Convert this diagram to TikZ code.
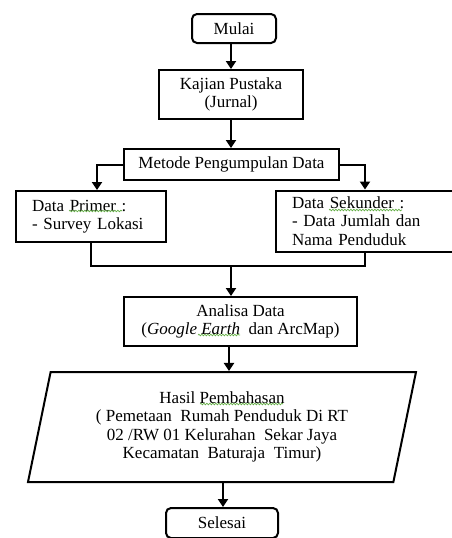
\documentclass[tikz,border=0pt]{standalone}
\usepackage{fontspec}
\setmainfont{Liberation Serif}
\usetikzlibrary{arrows.meta,shapes.geometric,decorations.pathmorphing}
\definecolor{spell}{RGB}{100,175,70}
\begin{document}
\begin{tikzpicture}[x=1pt,y=-1pt,
  every node/.style={font=\fontsize{17}{18.5}\selectfont, text=black},
  box/.style={draw, line width=2pt, inner sep=0pt, align=center},
  term/.style={box, rounded corners=5pt},
  ln/.style={line width=2pt},
  arr/.style={ln, -{Triangle[length=8pt,width=10pt]}},
  wavy/.style={draw=spell, line width=0.7pt, decorate, decoration={snake, amplitude=0.8pt, segment length=3pt}}
]
\useasboundingbox (0,0) rectangle (451,538);
\node[term, minimum width=84pt, minimum height=29pt] (mul) at (234,28.5) {Mulai};
\node[box, minimum width=144pt, minimum height=49pt] (kaj) at (231,94.5) {Kajian Pustaka\\(Jurnal)};
\node[box, minimum width=215pt, minimum height=31pt] (met) at (231.5,164.5) {Metode Pengumpulan Data};
\node[box, minimum width=150pt, minimum height=51pt, align=left, text width=118pt, inner xsep=16pt] (pri) at (91,216.5) {Data Primer :\\- Survey Lokasi};
\node[box, minimum width=178pt, minimum height=61pt, align=left, text width=146pt, inner xsep=16pt] (sek) at (365,221) {Data Sekunder :\\- Data Jumlah dan\\Nama Penduduk};
\node[box, minimum width=233pt, minimum height=49pt] (ana) at (240.5,321.5) {Analisa Data\\(\textit{Google Earth}\ \ dan ArcMap)};
\node[draw, line width=2pt, trapezium, trapezium left angle=72.3, trapezium right angle=107.7, trapezium stretches body, minimum width=388pt, minimum height=110pt, inner sep=0pt, align=center] (has) at (222,427)
  {Hasil Pembahasan\\( Pemetaan\ \ Rumah Penduduk Di RT\\02 /RW 01 Kelurahan\ \ Sekar Jaya\\Kecamatan\ \ Baturaja\ \ Timur)};
\node[term, minimum width=112pt, minimum height=30pt] (sel) at (222,523) {Selesai};
\coordinate (j) at (231,266);
\draw[arr] (mul.south -| 231,0) -- (kaj.north -| 231,0);
\draw[arr] (kaj.south -| 231,0) -- (met.north -| 231,0);
\draw[arr] (met.west) -| ([xshift=6pt]pri.north);
\draw[arr] (met.east) -| (sek.north);
\draw[ln] (pri.south) |- (j);
\draw[ln] (sek.south) |- (j);
\draw[arr] (j) -- (ana.north -| j);
\draw[arr] (ana.south -| 229,0) -- (has.north -| 229,0);
\draw[arr] (has.south -| 223,0) -- (sel.north -| 223,0);
% spell-check underlines
\draw[wavy] (69,211) -- (122,211);
\draw[wavy] (329,210) -- (402,210);
\draw[wavy] (198,335) -- (240,335);
\draw[wavy] (200,404) -- (283,404);
\end{tikzpicture}
\end{document}
